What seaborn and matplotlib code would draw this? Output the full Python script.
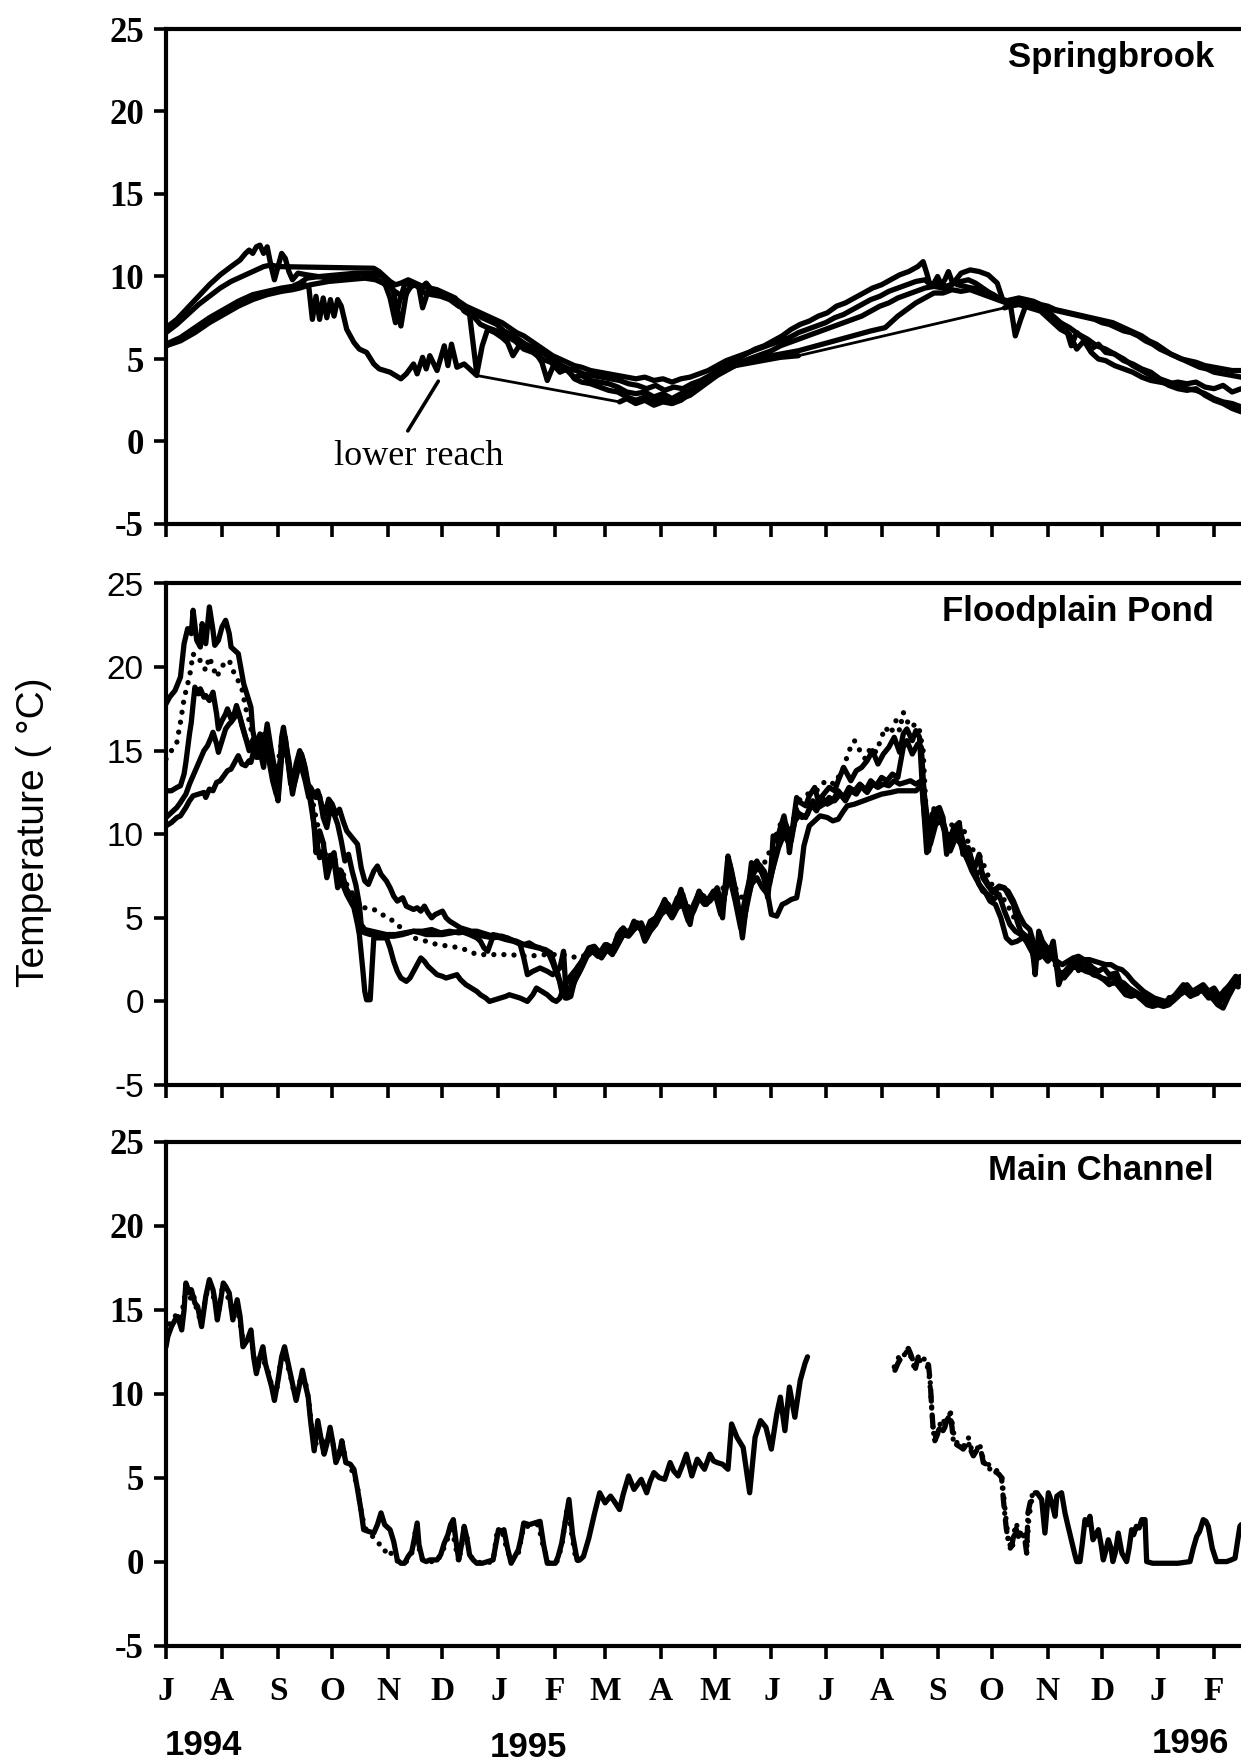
import numpy as np
import pandas as pd
import matplotlib
matplotlib.use("Agg")
import matplotlib.pyplot as plt
import matplotlib.dates as mdates
import seaborn as sns

START = pd.Timestamp("1994-07-01")

# ---------------------------------------------------------------
# Daily water temperature, (days since 1 Jul 1994, deg C)
# ---------------------------------------------------------------

# Springbrook loggers
SB_1 = [(0,6.9),(6,7.4),(12,8.1),(18,8.8),(24,9.5),(30,10.1),(36,10.6),(41,11.0),(44,11.4),(46,11.6),(48,11.4),
        (50,11.8),(52,11.9),(54,11.4),(56,11.8),(58,10.7),(60,9.8),(62,10.6),(64,11.4),(66,11.1),(68,10.3),(70,9.8),
        (73,10.2),(78,10.1),(84,10.0),(90,9.9),(96,10.0),(102,10.0),(108,9.9),(113,10.0),(117,9.8),(121,9.6),(124,8.7),
        (127,7.2),(129,8.4),(132,9.5),(135,9.7),(138,9.5),(141,9.3),(144,9.6),(147,9.2),(151,9.1),(155,8.9),(159,8.6),
        (163,8.2),(167,7.9),(171,7.8),(175,7.5),(179,7.3),(183,7.1),(187,6.7),(191,6.5),(195,6.2),(199,5.9),(203,5.7),
        (207,5.4),(211,5.2),(215,4.9),(219,4.6),(223,4.4),(227,4.3),(231,4.1),(236,4.0),(241,3.9),(246,3.8),(251,3.7),
        (256,3.5),(261,3.4),(266,3.2),(271,3.4),(276,3.1),(281,3.3),(286,3.2),(291,3.5),(296,3.7),(301,4.0),(306,4.4),
        (311,4.7),(316,5.0),(321,5.3),(326,5.6),(331,5.8),(336,6.1),(341,6.4),(346,6.8),(351,7.1),(356,7.3),(361,7.6),
        (366,7.8),(371,8.2),(376,8.4),(381,8.7),(386,9.0),(391,9.3),(396,9.5),(401,9.8),(406,10.1),(411,10.3),(416,10.6),
        (419,10.9),(421,10.2),(423,9.4),(425,9.6),(427,10.0),(429,9.5),(431,9.8),(433,10.3),(435,9.7),(438,9.5),(442,9.4),
        (446,9.3),(450,9.3),(454,9.1),(458,8.9),(462,8.6),(466,8.5),(470,8.4),(474,8.5),(478,8.4),(482,8.2),(486,8.1),
        (490,8.0),(494,7.9),(498,7.8),(502,7.7),(506,7.6),(510,7.5),(514,7.4),(518,7.2),(522,7.1),(526,6.9),(530,6.7),
        (534,6.6),(538,6.4),(542,6.1),(546,5.9),(550,5.6),(554,5.4),(558,5.2),(562,5.0),(566,4.9),(570,4.8),(575,4.6),
        (580,4.5),(585,4.4),(590,4.3),(595,4.3)]

SB_2 = [(0,6.6),(6,7.1),(12,7.7),(18,8.3),(24,8.8),(30,9.3),(36,9.7),(42,10.0),(48,10.3),(54,10.6),(58,10.7),(62,10.6),
        (115,10.5),(118,10.3),(121,10.0),(124,9.7),(127,9.5),(130,9.6),(134,9.8),(138,9.6),(142,9.4),(146,9.3),(150,9.2),
        (154,9.0),(158,8.8),(162,8.5),(166,8.2),(170,8.0),(174,7.8),(178,7.6),(182,7.4),(186,7.2),(190,6.9),(194,6.6),
        (198,6.4),(202,6.1),(206,5.8),(210,5.5),(214,5.2),(218,5.0),(222,4.8),(226,4.6),(230,4.5),(235,4.3),(240,4.2),
        (245,4.1),(250,4.0),(255,3.9),(260,3.8),(265,3.9),(270,3.7),(275,3.8),(280,3.6),(285,3.8),(290,3.9),(295,4.1),
        (300,4.3),(305,4.6),(310,4.9),(315,5.1),(320,5.3),(325,5.5),(330,5.7),(335,5.9),(340,6.1),(345,6.3),(350,6.6),
        (355,6.8),(360,7.0),(365,7.2),(370,7.5),(375,7.7),(380,8.0),(385,8.3),(390,8.6),(395,8.8),(400,9.1),(405,9.3),
        (410,9.5),(415,9.7),(420,9.8),(424,9.4),(428,9.6),(432,9.4),(436,9.6),(440,9.7),(444,9.8),(448,9.6),(452,9.3),
        (456,9.0),(460,8.7),(464,8.5),(468,8.6),(472,8.7),(476,8.6),(480,8.5),(484,8.3),(488,8.2),(492,8.0),(496,7.9),
        (500,7.8),(504,7.7),(508,7.6),(512,7.5),(516,7.4),(520,7.3),(524,7.2),(528,7.0),(532,6.8),(536,6.6),(540,6.4),
        (544,6.1),(548,5.9),(552,5.6),(556,5.3),(560,5.1),(564,4.9),(568,4.7),(572,4.5),(576,4.4),(580,4.2),(585,4.1),
        (590,4.0),(595,3.9)]

SB_3 = [(0,5.9),(8,6.3),(16,6.9),(24,7.5),(32,8.0),(40,8.5),(48,8.9),(56,9.1),(64,9.3),(70,9.4),(74,9.6),(78,9.9),
        (85,10.0),(95,10.1),(105,10.2),(115,10.2),(120,10.0),(125,9.5),(128,8.0),(130,7.0),(133,9.0),(137,9.6),(140,9.3),
        (142,8.1),(145,9.1),(150,9.0),(155,8.9),(160,8.7),(165,7.9),(168,7.7),(172,4.1),(175,5.8),(178,6.8),(182,6.6),
        (186,6.3),(189,6.0),(192,5.2),(196,5.9),(200,5.8),(205,5.3),(208,4.8),(211,3.7),(214,4.5),(218,4.6),(222,4.3),
        (226,3.9),(230,4.0),(235,3.7),(240,3.6),(245,3.5),(250,3.3),(255,3.0),(260,2.9),(265,3.0),(270,2.7),(275,2.9),
        (280,2.6),(285,2.9),(290,3.1),(295,3.4),(300,3.8),(305,4.2),(310,4.5),(315,4.8),(320,4.9),(325,5.1),(330,5.3),
        (335,5.5),(340,5.8),(345,6.0),(350,6.2),(355,6.4),(360,6.6),(365,6.8),(370,7.0),(375,7.2),(380,7.4),(385,7.6),
        (390,7.9),(395,8.2),(400,8.4),(405,8.7),(410,8.9),(415,9.1),(420,9.3),(425,9.4),(430,9.3),(435,9.5),(440,10.2),
        (445,10.4),(450,10.3),(455,10.1),(460,9.6),(463,8.6),(467,8.5),(470,6.4),(473,7.4),(476,8.3),(480,8.4),(485,8.1),
        (490,7.7),(494,7.3),(498,6.9),(501,5.8),(504,6.6),(508,6.2),(512,5.6),(516,5.9),(520,5.4),(525,5.3),(530,4.9),
        (535,4.7),(540,4.4),(545,4.2),(550,3.8),(555,3.6),(560,3.4),(565,3.2),(570,3.1),(575,2.9),(580,2.6),(585,2.4),
        (590,2.3),(595,2.1)]

SB_4 = [(0,5.8),(8,6.1),(16,6.6),(24,7.2),(32,7.7),(40,8.2),(48,8.6),(56,8.9),(64,9.1),(70,9.2),(74,9.3),(80,9.5),
        (90,9.7),(100,9.8),(110,9.9),(116,9.8),(120,9.6),(124,9.3),(128,9.0),(132,8.7),(135,9.4),(139,9.5),(143,9.0),
        (147,8.9),(152,8.8),(157,8.6),(162,8.2),(166,8.0),(170,7.6),(174,7.1),(178,6.9),(183,6.7),(188,6.4),(193,6.1),
        (198,5.6),(203,5.4),(208,5.0),(213,4.8),(218,4.2),(222,4.4),(226,3.8),(230,3.6),(235,3.5),(240,3.3),(245,3.1),
        (250,3.0),(255,2.7),(260,2.5),(265,2.7),(270,2.4),(275,2.6),(280,2.3),(285,2.6),(290,2.8),(295,3.2),(300,3.6),
        (305,4.0),(310,4.3),(315,4.6),(320,4.8),(325,5.0),(330,5.1),(340,5.3),(350,5.5),(360,5.8),(370,6.1),(380,6.4),
        (390,6.7),(398,6.9),(405,7.6),(410,8.0),(415,8.4),(420,8.7),(425,9.0),(430,9.0),(435,9.2),(440,9.1),(445,9.2),
        (450,9.0),(455,8.8),(460,8.6),(465,8.4),(470,8.5),(475,8.4),(480,8.2),(485,8.0),(490,7.6),(495,7.2),(500,6.9),
        (505,6.5),(510,6.2),(515,5.8),(520,5.6),(525,5.3),(530,5.0),(535,4.6),(540,4.3),(545,4.0),(550,3.7),(555,3.4),
        (560,3.2),(565,3.1),(570,3.2),(575,2.8),(580,2.5),(585,2.3),(590,2.0),(595,1.8)]

# lower-reach logger, recorded in three stretches
SB_REACH_A = [(0,5.8),(8,6.2),(16,6.7),(24,7.3),(32,7.8),(40,8.3),(48,8.7),(56,9.0),(64,9.2),(72,9.3),(77,9.5),
              (79,9.4),(81,7.4),(83,8.8),(85,7.4),(87,8.7),(89,7.5),(91,8.6),(93,7.6),(95,8.6),(97,8.2),(100,6.8),
              (104,6.0),(107,5.6),(111,5.4),(115,4.7),(118,4.4),(124,4.2),(130,3.8),(133,4.1),(137,4.7),(139,4.1),
              (142,5.1),(144,4.4),(146,5.2),(150,4.3),(154,5.8),(156,4.6),(158,5.9),(161,4.5),(165,4.7),(168,4.4),
              (172,4.0)]
SB_REACH_B = [(251,2.4),(255,2.6),(260,2.3),(265,2.5),(270,2.2),(275,2.4),(280,2.3),(285,2.5),(290,2.9),(295,3.3),
              (300,3.7),(305,4.1),(310,4.4),(315,4.6),(320,4.7),(325,4.8),(330,4.9),(340,5.1),(350,5.2)]
SB_REACH_C = [(464,8.1),(467,8.2),(472,8.3),(478,8.1),(484,7.9),(490,7.3),(495,6.8),(500,6.5),(504,5.6),(508,6.1),
              (512,5.4),(516,5.0),(520,4.9),(525,4.6),(530,4.4),(535,4.2),(540,3.9),(545,3.7),(550,3.6),(555,3.5),
              (560,3.6),(565,3.5),(570,3.6),(575,3.3),(580,3.2),(585,3.4),(590,3.0),(595,3.2)]

# Floodplain pond loggers
FP_A = [(0,17.8),(2,18.2),(5,18.6),(8,19.4),(10,21.4),(12,22.3),(14,22.0),(15,23.4),(17,21.6),(19,21.2),(20,22.6),
        (22,21.4),(24,23.6),(26,22.2),(27,21.3),(29,21.6),(31,22.4),(33,22.8),(35,22.0),(36,21.2),(38,21.0),(40,20.8),
        (42,19.6),(43,19.0),(45,18.3),(47,17.6),(48,16.2),(50,15.2),(52,16.0),(54,15.0),(56,16.6),(58,15.2),(60,14.0),
        (62,12.2),(64,15.8),(65,16.4),(67,15.0),(68,14.4),(70,12.8),(72,14.2),(74,15.0),(76,14.4),(78,13.0),(80,12.8),
        (82,12.4),(84,12.6),(86,11.8),(88,11.2),(90,12.1),(92,11.8),(94,11.2),(96,11.5),(98,10.8),(100,10.2),(103,9.8),
        (106,9.4),(108,8.0),(110,7.2),(112,7.0),(115,7.8),(117,8.1),(119,7.6),(122,7.2),(124,6.8),(126,6.3),(128,6.0),
        (131,6.2),(133,5.7),(135,5.6),(137,5.5),(139,5.6),(141,5.4),(143,5.7),(145,5.3),(147,5.0),(149,5.2),(151,5.3),
        (153,5.4),(155,5.0),(157,4.8),(160,4.6),(163,4.4),(166,4.3),(169,4.2),(172,4.2),(175,4.1),(178,4.0),(181,3.9),
        (185,3.8),(188,3.7),(192,3.6),(195,3.5),(198,3.4),(201,3.5),(204,3.3),(207,3.2),(210,3.0),(212,2.8),(214,2.3),
        (216,1.7),(218,1.2),(220,0.5),(222,0.3),(224,0.9),(226,1.6),(228,2.1),(231,2.5),(234,3.2),(237,3.3),(240,2.9),
        (243,3.4),(247,3.0),(250,4.0),(252,4.3),(256,4.1),(259,4.6),(261,4.7),(264,4.2),(266,3.8),(268,4.6),(271,4.9),
        (274,5.6),(276,6.1),(278,5.6),(280,5.3),(283,6.0),(285,6.7),(287,5.8),(290,4.6),(292,5.8),(295,6.5),(298,6.2),
        (300,6.1),(303,6.6),(305,6.2),(308,5.0),(310,7.6),(311,8.7),(313,7.8),(316,6.2),(319,3.8),(321,5.6),(324,8.3),
        (327,8.0),(329,8.1),(331,7.4),(333,6.2),(335,8.2),(336,9.9),(338,9.6),(340,10.4),(342,11.1),(344,10.0),(345,8.9),
        (347,10.6),(349,12.2),(351,11.9),(354,11.7),(356,12.3),(359,12.8),(361,12.0),(364,12.4),(367,12.8),(370,12.6),
        (372,13.2),(375,14.0),(377,13.6),(379,13.2),(382,13.8),(385,14.0),(388,14.4),(391,15.0),(394,14.2),(397,14.8),
        (400,15.2),(403,15.8),(406,14.9),(408,16.0),(410,16.3),(413,15.6),(415,16.2),(417,15.8),(419,12.0),(421,8.9),
        (423,10.6),(425,11.4),(428,11.6),(430,11.0),(432,8.8),(434,9.8),(436,10.4),(439,10.7),(441,8.8),(444,9.2),
        (447,7.8),(450,8.8),(452,7.4),(455,6.9),(458,6.5),(461,6.9),(464,6.8),(466,6.4),(469,5.8),(471,4.8),(473,4.2),
        (476,3.9),(478,3.8),(480,2.6),(481,1.6),(483,4.2),(485,3.6),(487,3.3),(489,3.0),(491,3.6),(493,2.0),(494,1.0),
        (496,1.6),(499,2.0),(502,2.4),(504,2.5),(507,2.2),(510,2.3),(513,2.0),(516,1.8),(519,2.0),(522,1.6),(526,1.7),
        (528,1.2),(530,1.1),(533,0.8),(536,0.6),(539,0.4),(542,0.3),(545,0.2),(548,0.1),(551,0.0),(554,-0.1),(557,0.0),
        (560,0.3),(563,0.8),(565,0.6),(568,0.4),(571,0.7),(574,0.6),(577,0.2),(580,0.3),(583,-0.1),(586,0.4),(588,0.9),
        (590,1.2),(592,1.5),(595,1.1)]

FP_B = [(0,14.5),(3,15.0),(6,15.5),(8,16.7),(10,18.1),(12,19.0),(13,19.4),(15,20.8),(17,20.4),(19,20.4),(22,19.8),
        (24,20.6),(26,20.0),(28,19.4),(30,19.8),(32,20.2),(35,20.4),(37,19.8),(39,19.4),(42,18.7),(44,17.6),(46,16.8),
        (48,15.8),(50,15.0),(53,15.8),(56,16.2),(58,14.8),(61,13.2),(63,15.0),(65,16.0),(67,14.6),(70,13.0),(72,14.0),
        (75,14.6),(77,13.6),(80,12.6),(83,11.0),(85,10.0),(87,9.6),(89,8.2),(91,8.8),(93,8.8),(95,7.6),(97,8.0),(100,7.0),
        (103,6.5),(105,6.2),(107,5.8),(110,5.6),(113,5.6),(117,5.4),(121,5.1),(126,4.8),(131,4.3),(137,3.8),(144,3.6),
        (150,3.4),(157,3.3),(163,3.2),(168,3.0),(172,2.8),(180,2.8),(190,2.8),(200,2.7),(210,2.8),(220,2.8),(228,2.6),
        (233,2.8),(237,3.2),(240,3.0),(245,3.2),(250,3.8),(255,4.2),(260,4.5),(265,4.3),(270,4.6),(275,5.4),(280,5.6),
        (285,6.0),(290,5.6),(295,6.2),(300,6.4),(305,6.0),(310,7.2),(315,6.8),(320,6.0),(325,7.6),(330,8.0),(335,9.2),
        (340,10.6),(345,10.0),(350,12.0),(355,12.4),(360,12.6),(365,13.2),(370,13.0),(375,14.0),(378,15.0),(381,15.6),
        (384,15.0),(387,14.5),(390,15.2),(393,14.9),(396,15.8),(398,16.4),(401,16.0),(404,16.8),(406,16.2),(408,17.3),
        (410,16.8),(412,16.4),(415,16.6),(417,16.2),(419,15.0),(421,10.6),(423,11.0),(426,11.8),(429,11.2),(432,9.6),
        (435,10.6),(438,10.8),(441,10.4),(444,9.5),(447,9.0),(450,8.8),(452,8.3),(454,7.8),(456,7.2),(459,6.6),(462,6.2),
        (465,6.0),(468,5.2),(471,4.8),(474,4.0),(477,3.6),(480,2.8),(483,3.4),(486,3.0),(489,2.6),(492,2.2),(495,1.8),
        (498,1.6),(502,2.0),(506,1.8),(510,2.0),(514,1.6),(518,1.4),(522,1.2),(526,1.0),(530,0.8),(534,0.7),(538,0.4),
        (542,0.3),(546,0.1),(550,0.0),(554,0.2),(558,0.3),(562,0.5),(566,0.6),(570,0.4),(574,0.8),(578,0.5),(582,0.6),
        (586,0.3),(590,0.8),(595,0.9)]

FP_C = [(0,12.6),(3,12.6),(6,12.8),(8,12.9),(10,13.6),(11,14.3),(13,16.0),(14,16.7),(15,17.8),(16,18.8),(18,18.4),
        (19,18.7),(21,18.2),(22,18.3),(24,18.0),(26,18.5),(28,17.2),(29,16.3),(31,16.8),(33,17.2),(34,17.5),(36,16.9),
        (38,17.3),(39,17.7),(41,17.0),(42,16.5),(44,15.8),(46,15.2),(48,15.6),(50,14.6),(52,15.3),(54,14.2),(56,16.0),
        (58,14.6),(60,13.4),(62,12.8),(64,15.0),(66,15.8),(68,14.0),(70,12.6),(72,13.4),(75,14.8),(77,14.0),(79,12.8),
        (81,11.6),(82,10.4),(83,8.9),(85,10.2),(87,9.5),(89,7.9),(91,8.6),(93,8.9),(95,7.3),(97,7.8),(100,6.7),(102,6.4),
        (104,6.3),(106,5.4),(108,4.2),(110,4.1),(113,4.0),(117,4.0),(121,3.9),(126,3.9),(131,4.0),(137,4.2),(141,4.1),
        (144,4.0),(148,4.0),(153,4.0),(158,4.1),(163,4.2),(168,4.0),(172,3.8),(174,3.6),(176,3.2),(178,3.0),(180,3.6),
        (181,4.0),(185,3.9),(189,3.8),(193,3.6),(196,3.4),(198,2.6),(200,1.6),(203,1.8),(207,2.0),(211,1.8),(214,1.6),
        (218,2.0),(220,3.0),(221,1.2),(222,0.2),(224,0.3),(226,1.2),(229,1.8),(232,2.6),(235,3.0),(238,3.1),(241,2.8),
        (244,3.4),(247,3.2),(250,3.8),(253,4.4),(256,4.0),(259,4.8),(262,4.4),(265,4.0),(268,4.8),(271,5.0),(274,5.6),
        (277,5.9),(280,5.4),(283,6.2),(286,6.4),(289,5.2),(292,5.6),(295,6.6),(298,6.0),(301,6.2),(304,6.6),(307,5.4),
        (310,7.2),(312,8.2),(315,6.6),(318,4.8),(321,6.4),(324,7.8),(327,8.4),(330,7.6),(333,6.8),(336,8.0),(339,9.2),
        (342,10.0),(345,9.4),(348,10.8),(351,11.2),(354,11.0),(357,11.8),(360,11.4),(363,12.2),(366,11.8),(369,12.0),
        (372,12.6),(375,12.2),(378,12.8),(381,12.6),(384,13.0),(387,12.6),(390,13.2),(393,12.9),(396,13.4),(399,13.2),
        (402,13.6),(405,13.4),(408,15.2),(410,15.6),(413,14.8),(416,15.4),(418,15.2),(420,11.6),(422,9.6),(424,11.2),
        (427,11.4),(430,10.8),(433,9.4),(436,10.2),(439,10.4),(442,9.2),(445,8.8),(448,7.6),(451,7.8),(454,7.2),
        (457,6.6),(460,6.8),(463,6.8),(466,6.6),(469,6.0),(472,5.2),(475,4.6),(478,4.3),(481,3.2),(484,3.6),(487,3.0),
        (490,2.6),(493,2.4),(496,2.2),(499,2.4),(502,2.6),(505,2.7),(508,2.5),(511,2.5),(514,2.4),(517,2.3),(520,2.2),
        (523,2.2),(526,2.0),(529,1.9),(532,1.6),(535,1.2),(538,0.9),(541,0.6),(544,0.4),(547,0.2),(550,0.1),(553,0.0),
        (556,0.2),(559,0.4),(562,0.7),(565,1.0),(568,0.6),(571,0.8),(574,1.0),(577,0.6),(580,0.8),(583,0.3),(586,0.7),
        (589,1.0),(592,1.4),(595,1.5)]

FP_D = [(0,11.0),(3,11.3),(6,11.6),(8,11.9),(11,12.4),(13,13.0),(15,13.5),(17,14.0),(19,14.5),(21,15.0),(23,15.3),
        (25,15.8),(26,16.1),(28,15.4),(29,14.9),(31,15.6),(33,16.3),(35,16.6),(36,16.7),(38,17.0),(40,17.3),(42,16.6),
        (44,15.8),(46,15.0),(48,15.6),(50,14.8),(52,15.0),(54,14.0),(56,15.8),(58,14.2),(60,13.0),(62,12.0),(64,14.6),
        (66,15.2),(68,14.2),(70,12.4),(72,13.6),(75,14.6),(77,13.8),(79,12.6),(81,11.2),(83,9.8),(85,8.6),(87,9.0),
        (89,7.4),(91,8.2),(93,8.4),(95,6.8),(97,7.2),(100,6.4),(102,6.0),(104,5.6),(106,4.6),(107,4.0),(109,1.8),
        (110,0.6),(111,0.1),(113,0.1),(114,2.0),(115,3.8),(118,3.8),(122,3.8),(124,3.2),(126,2.4),(128,1.8),(130,1.4),
        (133,1.2),(135,1.4),(137,1.8),(139,2.2),(141,2.6),(143,2.4),(145,2.1),(148,1.8),(150,1.6),(153,1.5),(155,1.4),
        (158,1.5),(161,1.6),(163,1.3),(166,1.0),(169,0.8),(172,0.6),(174,0.4),(177,0.2),(179,0.0),(182,0.1),(185,0.2),
        (188,0.3),(190,0.4),(193,0.3),(196,0.2),(198,0.1),(200,0.0),(203,0.4),(205,0.8),(208,0.6),(211,0.4),(214,0.1),
        (216,0.0),(218,0.2),(220,0.8),(223,1.4),(226,1.8),(229,2.2),(232,2.8),(235,3.2),(238,2.9),(241,2.6),(244,3.1),
        (247,2.8),(250,3.4),(253,4.0),(256,3.9),(259,4.3),(262,4.6),(265,3.6),(268,4.2),(271,4.6),(274,5.2),(277,5.5),
        (280,5.0),(283,5.6),(286,5.8),(289,4.8),(292,5.4),(295,6.2),(298,5.8),(301,6.0),(304,6.4),(307,5.2),(310,6.8),
        (312,7.4),(315,6.0),(318,4.4),(321,5.8),(324,7.0),(327,7.4),(330,6.8),(333,6.4),(335,5.2),(338,5.1),(341,5.8),
        (343,5.9),(346,6.1),(349,6.2),(351,7.4),(353,9.3),(356,10.5),(359,10.8),(362,11.1),(366,11.0),(369,10.8),
        (372,10.9),(375,11.4),(377,11.7),(381,11.8),(386,12.0),(391,12.2),(396,12.4),(401,12.5),(405,12.6),(410,12.6),
        (415,12.6),(419,13.0),(421,11.2),(423,9.4),(426,10.6),(429,10.8),(432,9.8),(435,9.6),(438,10.0),(441,9.0),
        (444,8.4),(447,8.0),(450,7.0),(453,6.6),(456,6.0),(459,5.8),(462,5.0),(465,3.8),(468,3.5),(471,3.6),(474,3.8),
        (477,3.9),(480,3.4),(483,2.6),(486,2.8),(489,3.2),(492,2.6),(495,1.4),(498,1.8),(501,2.1),(504,2.0),(507,1.9),
        (510,2.0),(513,1.6),(516,1.5),(519,1.3),(522,1.0),(525,1.2),(528,0.8),(531,0.4),(534,0.3),(537,0.4),(540,0.1),
        (543,-0.2),(546,-0.3),(549,-0.2),(552,-0.3),(555,-0.2),(558,0.1),(561,0.4),(564,0.6),(567,0.3),(570,0.5),
        (573,0.9),(576,0.4),(579,0.2),(582,-0.2),(585,-0.4),(588,0.3),(591,0.9),(595,1.2)]

FP_E = [(0,10.5),(3,10.7),(6,11.0),(8,11.1),(11,11.6),(13,12.0),(15,12.3),(18,12.4),(21,12.5),(22,12.2),(24,12.7),
        (26,12.6),(28,13.1),(30,13.2),(32,13.5),(34,13.8),(36,13.9),(38,14.3),(40,14.7),(42,14.2),(44,14.1),(46,14.4),
        (47,14.3),(49,15.2),(51,14.6),(53,15.4),(55,15.8),(57,14.4),(59,13.2),(61,12.4),(63,14.2),(65,15.4),(67,14.8),
        (69,13.0),(71,13.2),(73,14.4),(75,14.0),(77,13.2),(79,12.2),(81,12.3),(83,12.2),(85,12.3),(87,11.0),(89,10.4),
        (91,11.6),(93,11.2),(95,10.6),(97,9.6),(99,8.4),(101,8.8),(103,7.8),(105,7.0),(107,5.8),(108,4.6),(110,4.3),
        (114,4.2),(118,4.1),(122,4.0),(127,4.0),(132,4.1),(137,4.2),(142,4.2),(147,4.3),(152,4.1),(157,4.2),(162,4.1),
        (167,4.2),(171,4.0),(176,3.9),(181,3.8),(186,3.9),(190,3.7),(194,3.6),(198,3.4),(202,3.3),(206,3.2),(210,3.1),
        (213,2.9),(215,2.2),(217,1.6),(219,0.6),(221,0.2),(223,0.3),(225,0.9),(227,1.4),(230,2.0),(233,2.7),(236,3.0),
        (239,2.7),(242,3.0),(245,3.3),(248,3.0),(251,3.6),(254,4.2),(257,4.2),(260,4.4),(263,4.7),(266,3.9),(269,4.4),
        (272,5.0),(275,5.4),(278,5.8),(281,5.2),(284,6.2),(287,6.0),(290,5.0),(293,5.8),(296,6.4),(299,5.8),(302,6.2),
        (305,6.8),(308,5.6),(311,7.6),(313,7.2),(316,5.8),(319,4.4),(322,6.0),(325,7.6),(328,8.2),(331,7.8),(334,7.0),
        (337,8.6),(340,9.8),(343,10.6),(346,9.6),(349,11.4),(352,11.0),(355,11.2),(358,12.0),(361,11.6),(364,11.8),
        (367,12.2),(370,12.0),(373,12.4),(376,12.0),(379,12.6),(382,12.4),(385,12.9),(388,12.5),(391,13.0),(394,12.8),
        (397,13.0),(400,12.9),(403,13.2),(406,13.0),(409,13.1),(412,13.2),(415,13.0),(418,13.2),(420,10.8),(422,9.0),
        (425,10.8),(428,11.2),(431,10.4),(434,9.0),(437,9.8),(440,9.4),(443,8.6),(446,7.8),(449,7.2),(452,6.6),(455,6.4),
        (458,6.1),(461,6.4),(464,5.4),(467,4.6),(470,4.2),(473,4.0),(476,3.6),(479,3.0),(482,3.4),(485,2.8),(488,2.4),
        (491,2.8),(494,1.6),(497,1.4),(500,1.8),(503,2.2),(506,2.0),(509,1.8),(512,1.7),(515,1.6),(518,1.4),(521,1.3),
        (524,1.5),(527,1.2),(530,1.0),(533,0.6),(536,0.5),(539,0.2),(542,0.0),(545,-0.1),(548,0.0),(551,-0.2),(554,-0.1),
        (557,0.2),(560,0.6),(563,1.0),(566,0.8),(569,0.4),(572,0.6),(575,0.8),(578,0.3),(581,0.0),(584,0.2),(587,0.6),
        (590,1.0),(595,1.3)]

# Main channel loggers
MC_SOLID_1 = [(0,12.8),(1,13.4),(3,14.0),(5,14.4),(6.5,14.6),(8.7,13.8),(10,15.0),(11,16.6),(13,16.0),(14,16.2),
              (16,15.4),(17.5,15.2),(19.7,14.0),(21,15.0),(22,15.8),(24,16.8),(26,16.2),(27,15.6),(28.4,14.4),(30,15.4),
              (31.7,16.6),(33,16.4),(35,16.0),(37,14.4),(39.4,15.6),(41,14.6),(42.6,12.8),(45,13.2),(47,13.8),(48.5,12.2),
              (50,11.2),(52,12.2),(53.6,12.8),(55,11.8),(57,11.0),(58.5,10.4),(60,9.6),(62,10.8),(64,12.2),(65.6,12.8),
              (68,11.6),(70,10.6),(72,9.6),(74,10.6),(75.5,11.4),(77,10.6),(78.7,9.8),(80,8.4),(82,6.6),(84,8.4),(86,7.2),
              (87.5,6.4),(89,7.0),(90.8,8.0),(92.5,7.0),(94,5.9),(96,6.4),(97.3,7.2),(99.5,5.9),(102,5.8),(104,5.5),
              (106,4.3),(108,3.0),(109.4,1.9),(112,1.8),(115,1.7),(117,2.2),(119,2.9),(121,2.2),(124,1.9),(126,1.2),
              (128,0.1),(130,-0.1),(132,-0.1),(134,0.3),(136,0.6),(137,1.1),(139,2.3),(140,1.0),(142,0.1),(144,0.0),
              (146,0.1),(148,0.1),(150,0.1),(152,0.4),(154,1.1),(156,1.6),(157.5,2.2),(159,2.5),(160.5,1.2),(162,0.1),
              (163.5,1.0),(165,2.1),(166.5,1.4),(168,0.4),(170,0.1),(172,-0.1),(175,-0.1),(178,0.0),(181,0.1),(184,1.9),
              (186,1.8),(187,1.9),(189,0.8),(191,-0.1),(193,0.3),(195,0.7),(196.5,1.4),(198,2.3),(201,2.2),(204,2.3),
              (207,2.4),(209,1.0),(211,-0.1),(213,-0.1),(215.5,-0.1),(217,0.3),(219,1.1),(221,2.4),(223,3.7),(225,1.6),
              (227.5,0.1),(229,0.1),(231,0.3),(234,1.4),(237,2.8),(240,4.1),(243,3.5),(246,3.9),(248,3.6),(251,3.1),
              (253,4.0),(256,5.1),(259,4.3),(261,4.6),(263,4.9),(266,4.1),(268,4.8),(270,5.3),(273,5.0),(276,4.9),
              (279,5.9),(281,5.4),(283.4,5.1),(286,5.8),(288,6.4),(291,5.1),(294,6.1),(296,5.8),(298,5.5),(301,6.4),
              (303,6.0),(305,5.9),(308,5.8),(311,5.5),(313,8.2),(316,7.4),(319.4,6.8),(321,5.6),(323,4.1),(326,7.4),
              (329,8.4),(332,8.0),(335,6.7),(338,8.8),(340,9.8),(342.5,7.8),(345,10.4),(348,8.6),(351,10.8),(353.6,11.8),
              (355,12.2)]

MC_SOLID_2 = [(481,4.1),(482,4.1),(484.6,3.7),(486.4,1.7),(488.3,4.1),(490,3.6),(492,2.7),(493,3.9),(495.6,4.1),
              (497.5,2.9),(499,2.2),(501,1.3),(503,0.4),(504,0.0),(505.8,0.0),(507,1.0),(508.6,2.5),(510,2.2),(511.3,2.7),
              (513,1.3),(514.5,1.6),(516,1.9),(517.5,1.0),(518.7,0.1),(520,0.6),(521.5,1.3),(523,0.8),(524,0.0),
              (525.5,0.6),(527,1.7),(529,0.5),(531.6,0.0),(533,0.8),(534.4,1.9),(535.5,1.6),(537,2.1),(538.5,2.0),
              (540,2.5),(541.8,2.5),(542.7,0.0),(546,-0.1),(550,-0.1),(555,-0.1),(560,-0.1),(566.7,0.0),(568.5,0.8),
              (570.4,1.5),(572,1.8),(574,2.5),(575.5,2.4),(576.8,2.1),(579,0.8),(581.4,0.0),(584,0.0),(587,0.0),
              (589.5,0.1),(591.6,0.2),(593,1.2),(594.3,2.1),(595,2.2)]

MC_DOTTED_1 = [(0,13.6),(2,14.2),(4,14.4),(6,14.8),(8,14.2),(10,15.6),(11,16.2),(13,15.6),(15,16.0),(17,15.0),
               (19,14.4),(21,15.2),(23,16.2),(25,16.4),(27,15.4),(29,14.8),(31,16.2),(33,16.0),(35,15.6),(37,14.8),
               (39,15.4),(41,14.2),(43,13.0),(45,13.4),(47,13.4),(49,12.0),(51,11.6),(53,12.6),(55,11.6),(57,11.2),
               (59,10.2),(61,10.0),(63,11.6),(65,12.4),(67,11.8),(69,11.0),(71,10.0),(73,10.2),(75,11.2),(77,10.8),
               (79,9.6),(81,7.6),(83,7.0),(84,8.0),(86,7.4),(88,6.6),(90,7.6),(92,7.2),(94,6.2),(96,6.6),(98,6.8),
               (100,5.8),(102,5.6),(104,5.2),(106,4.4),(108,3.0),(110,2.0),(113,1.7),(115,1.4),(117,1.2),(119,0.9),
               (121,0.6),(123,0.8),(125,0.4),(127,0.1),(130,-0.1),(133,0.0),(136,0.5),(138,1.8),(140,0.8),(142,0.1),
               (146,0.0),(150,0.0),(153,0.6),(156,1.4),(158,2.2),(160,1.0),(162,0.0),(164,1.2),(166,1.8),(168,0.4),
               (171,0.0),(176,-0.1),(181,0.0),(183,1.6),(186,1.8),(188,1.0),(191,0.0),(195,0.5),(198,2.1),(202,2.1),
               (206,2.2),(209,0.8),(212,-0.1),(216,-0.1),(219,0.9),(222,3.2),(224,2.0),(227,0.0),(230,0.2)]

MC_DOTTED_2 = [(403,11.6),(406,12.3),(409,12.4),(411,12.6),(414,11.6),(417,12.0),(420,11.8),(422,11.5),(423.5,9.6),
               (424.5,8.0),(426,7.4),(428,7.9),(430,8.4),(432,8.2),(434,9.0),(436,7.6),(438,7.0),(441,6.8),(444,7.4),
               (446,6.6),(449,6.8),(451,6.4),(454,5.9),(457,5.6),(460,5.4),(462.5,5.2),(463.5,4.0),(465,2.4),(466.5,1.0),
               (468,0.6),(469.5,1.6),(471,2.2),(473,1.6),(475,1.8),(476.5,0.8),(477.5,2.6),(479,3.6),(481,4.1)]

MC_DASHDOT = [(403.4,11.4),(405,11.8),(406,12.0),(408,12.2),(409.5,12.5),(410.8,12.7),(412,12.4),(413.6,11.9),
              (414.5,11.4),(416.3,12.2),(418,12.2),(419,12.1),(420.5,12.0),(422,11.7),(423,10.6),(423.7,9.2),(424.6,7.8),
              (425.5,7.2),(427,7.6),(428.3,8.2),(430,7.8),(431,8.0),(432.5,8.6),(433.8,8.8),(435,8.0),(435.7,7.2),
              (437,7.0),(438.5,6.9),(440,6.8),(441.2,6.7),(442.5,6.9),(444,7.1),(445.5,6.6),(446.8,6.3),(448.5,6.6),
              (450.5,6.9),(452.3,5.9),(454,5.8),(456,5.5),(458,5.4),(459.7,5.3),(461,5.2),(462.4,5.0),(463.4,3.7),
              (464.3,2.7),(465,2.0),(466,1.3),(467,1.0),(468,0.9),(470,2.1),(471.7,1.5),(473.5,1.8),(475.3,1.3),
              (476.3,0.5),(477,2.9),(479,3.9),(481,4.1)]

PANEL_TITLES = ["Springbrook", "Floodplain Pond", "Main Channel"]
YEAR_LABELS = ["1994", "1995", "1996"]
Y_TICKS = [-5, 0, 5, 10, 15, 20, 25]

# ---------------------------------------------------------------
sns.set_style("white")
plt.rcParams["font.family"] = ["Liberation Sans", "DejaVu Sans"]
plt.rcParams.update({
    "axes.edgecolor": "black",
    "text.color": "black",
    "axes.labelcolor": "black",
    "xtick.color": "black",
    "ytick.color": "black",
})

SERIF = "Liberation Serif"
SANS = "Liberation Sans"
LW = 3.8
DOT = (0, (0.01, 1.9))
DASHDOT = (0, (2.2, 1.3, 0.01, 1.3))


def frame(points):
    d = np.array([p[0] for p in points], dtype=float)
    t = np.array([p[1] for p in points], dtype=float)
    return pd.DataFrame({"date": START + pd.to_timedelta(d, unit="D"), "temp": t})


def trace(ax, points, lw=LW, ls="-"):
    sns.lineplot(data=frame(points), x="date", y="temp", ax=ax, color="black",
                 linewidth=lw, linestyle=ls, estimator=None, errorbar=None,
                 sort=False, legend=False, solid_capstyle="round",
                 dash_capstyle="round", solid_joinstyle="round")


def bridge(ax, a, b):
    # straight fill-in across a logger gap
    trace(ax, [a[-1], b[0]], lw=2.0)


W, H = 1241, 1760
fig = plt.figure(figsize=(W / 100, H / 100), dpi=100)

left = 166 / W
width = 620 * 1.807 / W
panel_px = [(29, 524), (583.5, 1085), (1142, 1645.5)]
axes = []
for top, bot in panel_px:
    axes.append(fig.add_axes([left, 1 - bot / H, width, (bot - top) / H]))

ax1, ax2, ax3 = axes

# Springbrook
for s in (SB_1, SB_2, SB_3, SB_4, SB_REACH_A, SB_REACH_B, SB_REACH_C):
    trace(ax1, s)
bridge(ax1, SB_REACH_A, SB_REACH_B)
bridge(ax1, SB_REACH_B, SB_REACH_C)

# Floodplain pond
for s in (FP_E, FP_D, FP_C, FP_A):
    trace(ax2, s)
trace(ax2, FP_B, ls=DOT)

# Main channel
trace(ax3, MC_DOTTED_1, ls=DOT)
trace(ax3, MC_SOLID_1)
trace(ax3, MC_SOLID_2)
trace(ax3, MC_DOTTED_2, ls=DOT)
trace(ax3, MC_DASHDOT, ls=DASHDOT)

month_starts = pd.date_range("1994-07-01", "1996-02-01", freq="MS")
month_letters = [d.strftime("%b")[0] for d in month_starts]
x_end = START + pd.Timedelta(days=620)

for i, ax in enumerate(axes):
    ax.set_xlim(START, x_end)
    ax.set_ylim(-5, 25)
    ax.set_xlabel("")
    ax.set_ylabel("")
    ax.spines["right"].set_visible(False)
    for side in ("left", "top", "bottom"):
        ax.spines[side].set_linewidth(3.0)
        ax.spines[side].set_color("black")
    ax.set_xticks(month_starts)
    ax.tick_params(axis="x", direction="out", length=9, width=2.6, pad=13,
                   bottom=True, top=False, colors="black")
    ax.tick_params(axis="y", direction="out", length=9, width=2.6, pad=7,
                   left=True, right=False, colors="black")
    if i == 2:
        ax.set_xticklabels(month_letters, fontfamily=SERIF, fontweight="bold", fontsize=24)
    else:
        ax.set_xticklabels([])
    ax.set_yticks(Y_TICKS)
    if i == 1:
        ax.set_yticklabels([str(v) for v in Y_TICKS], fontfamily=SANS, fontsize=24)
    else:
        ax.set_yticklabels([str(v) for v in Y_TICKS], fontfamily=SERIF, fontweight="bold", fontsize=25)
    ax.text(mdates.date2num(START + pd.Timedelta(days=580)), 23.3, PANEL_TITLES[i],
            ha="right", va="center", fontfamily=SANS, fontweight="bold", fontsize=25, color="black")

# label pointing at the lower-reach logger
ax1.annotate("", xy=(mdates.date2num(START + pd.Timedelta(days=151.5)), 3.8),
             xytext=(mdates.date2num(START + pd.Timedelta(days=133)), 0.5),
             arrowprops=dict(arrowstyle="-", lw=2.6, color="black"))
ax1.text(mdates.date2num(START + pd.Timedelta(days=140)), -0.9, "lower reach",
         ha="center", va="center", fontfamily=SERIF, fontsize=26, color="black")

fig.text(34 / W, 1 - 832 / H, "Temperature ( °C)", rotation=90, ha="center", va="center",
         fontfamily=SANS, fontsize=28, color="black")

for label, xc, yc in zip(YEAR_LABELS, (203, 528, 1190), (1745, 1747, 1743)):
    fig.text(xc / W, 1 - yc / H, label, ha="center", va="center",
             fontfamily=SANS, fontweight="bold", fontsize=25, color="black")

fig.savefig("out.png", dpi=100)
